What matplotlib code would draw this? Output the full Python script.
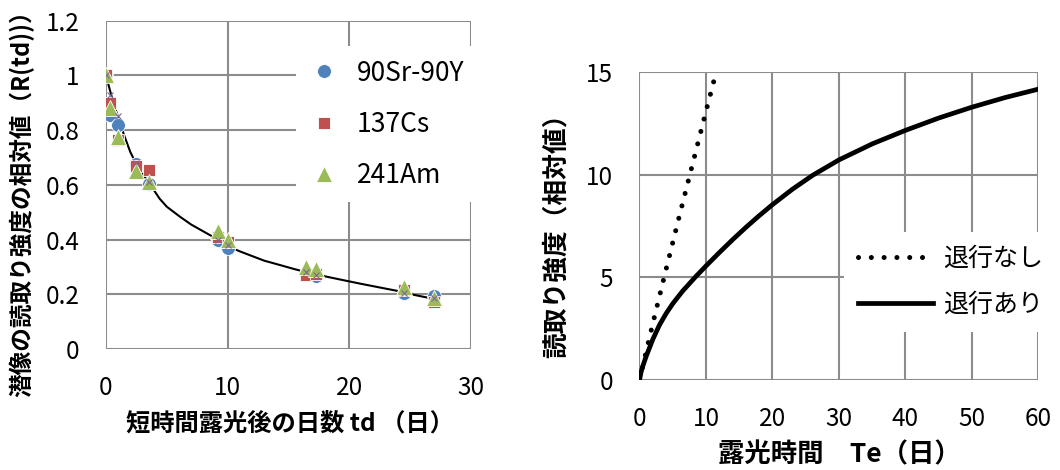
import matplotlib
matplotlib.use('Agg')
import matplotlib.pyplot as plt

plt.rcParams['font.family'] = ['Noto Sans CJK JP', 'DejaVu Sans']

# left chart: fading of the latent image
td = [0, 0.3, 1, 2.5, 3.5, 9.2, 10, 16.4, 17.3, 24.5, 27]
sr90 = [1.0, 0.855, 0.82, 0.677, 0.605, 0.40, 0.371, 0.274, 0.266, 0.203, 0.193]
cs137 = [1.0, 0.90, 0.763, 0.67, 0.653, 0.41, 0.39, 0.27, 0.275, 0.215, 0.173]
am241 = [1.0, 0.88, 0.775, 0.65, 0.61, 0.43, 0.40, 0.30, 0.294, 0.225, 0.185]
fit_pts = [1.0, 0.93, 0.85, 0.68, 0.61, 0.40, 0.38, 0.28, 0.27, 0.205, 0.185]

curve_td = [0, 0.3, 0.6, 0.9, 1.2, 1.5, 2, 2.5, 3, 3.5, 4.4, 5, 6.1, 7, 8, 8.8,
            9.9, 11, 12, 13, 14.3, 15.5, 17, 18.5, 19.8, 21, 22.5, 24, 25.2, 26.2, 27]
curve_r = [1.0, 0.95, 0.90, 0.86, 0.82, 0.78, 0.72, 0.675, 0.64, 0.61, 0.55, 0.52,
           0.483, 0.455, 0.43, 0.41, 0.378, 0.357, 0.34, 0.323, 0.307, 0.292,
           0.275, 0.261, 0.249, 0.238, 0.225, 0.212, 0.199, 0.19, 0.183]

# right chart: exposure time vs read-out intensity
te_nofade = [0, 2, 4, 6, 8, 10, 11.2]
r_nofade = [0, 2.75, 5.4, 8.0, 10.55, 13.1, 14.6]
te_fade = [0, 0.25, 0.5, 1, 2, 3, 4, 5, 6.5, 8.4, 10, 12, 14, 16, 18, 20, 23, 26,
           30, 35, 40, 45, 50, 55, 60]
r_fade = [0, 0.4, 0.68, 1.15, 1.98, 2.68, 3.24, 3.72, 4.34, 5.02, 5.56, 6.21, 6.84,
          7.44, 8.01, 8.55, 9.3, 9.97, 10.73, 11.51, 12.17, 12.77, 13.3, 13.77, 14.18]

GRID = '#8c8c8c'

fig = plt.figure(figsize=(10.6, 4.7), dpi=100)


def style_axes(ax, fs):
    ax.grid(True, color=GRID, lw=1.5)
    ax.set_axisbelow(True)
    for s in ax.spines.values():
        s.set_visible(False)
    ax.tick_params(length=0, pad=19, labelsize=fs)


def white_legend(leg):
    frame = leg.get_frame()
    frame.set_facecolor('white')
    frame.set_edgecolor('none')
    frame.set_alpha(1)
    leg.set_zorder(5)


# ---- left
ax1 = fig.add_axes([0.1, 0.2574, 0.3443, 0.6985])
ax1.set_xlim(0, 30)
ax1.set_ylim(0, 1.2)
ax1.set_xticks([0, 10, 20, 30])
ax1.set_yticks([0, 0.2, 0.4, 0.6, 0.8, 1.0, 1.2])
ax1.set_yticklabels(['0', '0.2', '0.4', '0.6', '0.8', '1', '1.2'])
style_axes(ax1, 17.5)
ax1.plot(curve_td, curve_r, color='black', lw=1.5, zorder=2)
ax1.plot(td, sr90, 'o', ms=10, color='#4f81bd', mec='white', mew=0.6, zorder=3,
         label='90Sr-90Y')
ax1.plot(td, cs137, 's', ms=9, color='#c0504d', mec='white', mew=0.6, zorder=3,
         label='137Cs')
ax1.plot(td, am241, '^', ms=11, color='#9bbb59', mec='white', mew=0.6, zorder=3,
         label='241Am')
ax1.plot(td, fit_pts, 'x', ms=4, color='#8064a2', mew=0.8, zorder=4)
ax1.set_xlabel('短時間露光後の日数 td （日）', fontsize=17.5, fontweight='bold')
ax1.xaxis.set_label_coords(0.505, -0.19)
ax1.set_ylabel('潜像の読取り強度の相対値（R(td))）', fontsize=17, fontweight='bold')
ax1.yaxis.set_label_coords(-0.197, 0.46)
leg1 = ax1.legend(loc='upper left', bbox_to_anchor=(0.485, 0.962), frameon=True,
                  fontsize=19, handletextpad=0.7, labelspacing=0.92,
                  borderpad=0.5, handlelength=1.1)
white_legend(leg1)

# ---- right
ax2 = fig.add_axes([0.6033, 0.1915, 0.3764, 0.6547])
ax2.set_xlim(0, 60)
ax2.set_ylim(0, 15)
ax2.set_xticks(range(0, 61, 10))
ax2.set_yticks([0, 5, 10, 15])
style_axes(ax2, 17.5)
ax2.plot(te_nofade, r_nofade, color='black', lw=3.6,
         linestyle=(0, (0.01, 2.55)), dash_capstyle='round', label='退行なし')
ax2.plot(te_fade, r_fade, color='black', lw=3.4, label='退行あり')
ax2.set_xlabel('露光時間　Te（日）', fontsize=19, fontweight='bold')
ax2.xaxis.set_label_coords(0.5, -0.2)
ax2.set_ylabel('読取り強度（相対値）', fontsize=18.5, fontweight='bold')
ax2.yaxis.set_label_coords(-0.174, 0.49)
leg2 = ax2.legend(loc='upper left', bbox_to_anchor=(0.5125, 0.481), frameon=True,
                  fontsize=18, handletextpad=0.4, labelspacing=0.8,
                  borderpad=0.56, borderaxespad=0, handlelength=3.0)
white_legend(leg2)

fig.savefig('out.png', dpi=100)
